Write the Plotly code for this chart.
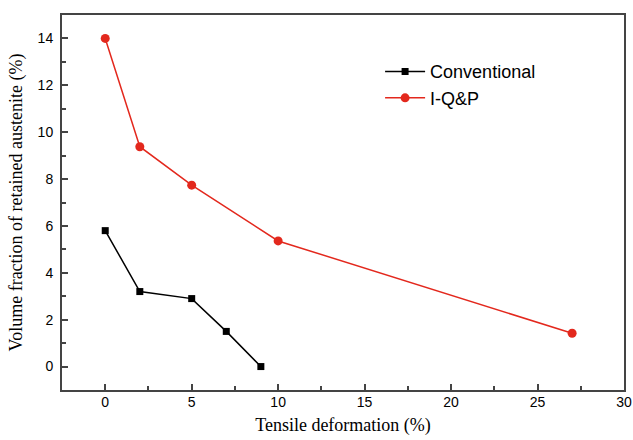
import plotly.graph_objects as go

conv_x = [0, 2, 5, 7, 9]
conv_y = [5.8, 3.2, 2.9, 1.5, 0.0]
iqp_x = [0, 2, 5, 10, 27]
iqp_y = [14.0, 9.38, 7.74, 5.36, 1.42]

x_ticks = [0, 5, 10, 15, 20, 25, 30]
y_ticks = [0, 2, 4, 6, 8, 10, 12, 14]

fig = go.Figure()
fig.add_trace(go.Scatter(x=conv_x, y=conv_y, mode="lines+markers", name="Conventional",
                         line=dict(color="black", width=1.5),
                         marker=dict(symbol="square", size=7, color="black")))
fig.add_trace(go.Scatter(x=iqp_x, y=iqp_y, mode="lines+markers", name="I-Q&P",
                         line=dict(color="#e3281d", width=1.5),
                         marker=dict(symbol="circle", size=9, color="#e3281d")))

axis_common = dict(showgrid=False, zeroline=False, showline=True, linecolor="#444",
                   linewidth=2, mirror=True, ticks="inside", ticklen=6, tickwidth=1.5,
                   tickcolor="#444", automargin=False,
                   tickfont=dict(family="Liberation Sans, Arial", size=14, color="black"))

fig.update_xaxes(range=[-2.5, 30], tickvals=x_ticks, ticklabelstandoff=-2,
                 minor=dict(ticks="inside", ticklen=4, tickwidth=1.5, tickcolor="#444", dtick=2.5, tick0=0),
                 title=dict(text="Tensile deformation (%)", font=dict(family="Liberation Serif, Times New Roman", size=18, color="black"), standoff=10),
                 **axis_common)
fig.update_yaxes(range=[-1, 15], tickvals=y_ticks, ticklabelstandoff=4,
                 minor=dict(ticks="inside", ticklen=4, tickwidth=1.5, tickcolor="#444", dtick=1, tick0=0),
                 title=dict(text="Volume fraction of retained austenite (%)", font=dict(family="Liberation Serif, Times New Roman", size=18, color="black"), standoff=10),
                 **axis_common)

fig.update_layout(width=633, height=440, margin=dict(l=62, r=9, t=15, b=50),
                  plot_bgcolor="white", paper_bgcolor="white",
                  legend=dict(x=0.566, y=0.898, xanchor="left", yanchor="top",
                              font=dict(family="Liberation Sans, Arial", size=18, color="black"),
                              bgcolor="rgba(0,0,0,0)", tracegroupgap=0, itemwidth=40))

fig.write_html("out.html")
